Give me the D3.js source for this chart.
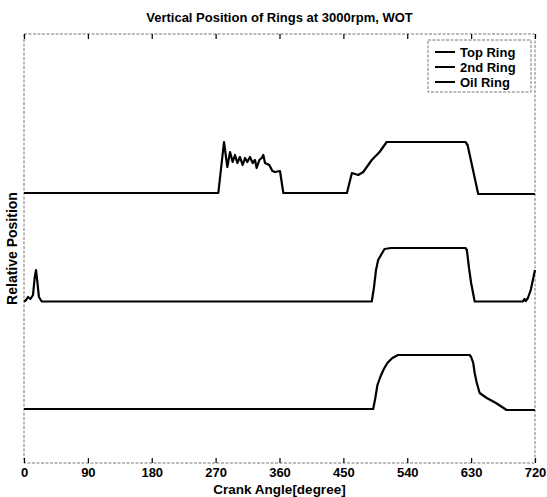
<!DOCTYPE html>
<html><head><meta charset="utf-8">
<script src="https://cdn.jsdelivr.net/npm/d3@7"></script>
<style>body{margin:0;background:#fff}svg{display:block}</style>
</head><body><svg id="c" width="547" height="497"></svg>
<script>
const title = "Vertical Position of Rings at 3000rpm, WOT";
const xLabel = "Crank Angle[degree]";
const yLabel = "Relative Position";
const xTicks = [0, 90, 180, 270, 360, 450, 540, 630, 720];
const seriesNames = ["Top Ring", "2nd Ring", "Oil Ring"];

const topAngle = [0, 273.8, 278.5, 281.8, 286.5, 290.3, 294, 297.3, 300.6, 304.3, 308, 311.4, 314.6, 318.4, 322.2, 325.5, 327.8, 331.6, 334.9, 337.2, 339.6, 345.6, 350, 353.7, 360.7, 365.4, 455, 462, 471, 478, 490, 501, 506, 511, 622, 625, 640, 720];
const topPos   = [27.0, 27.0, 30.0, 32.1, 29.6, 31.1, 30.1, 30.8, 30.0, 30.6, 29.8, 30.5, 30.1, 30.6, 30.0, 30.3, 29.5, 30.3, 30.5, 30.8, 30.0, 29.8, 29.2, 29.1, 29.2, 27.0, 27.0, 29.0, 28.8, 29.1, 30.3, 31.1, 31.6, 32.1, 32.1, 31.8, 26.9, 26.9];

const secAngle = [0, 3, 5.6, 9, 12.7, 15, 16.9, 19, 21, 25, 490, 493, 496, 499, 503, 508, 517, 622, 624, 627, 630, 635, 703, 705, 707, 710, 714, 717, 720];
const secPos   = [16.15, 16.3, 16.6, 16.4, 16.8, 18.5, 19.3, 18.0, 16.6, 16.15, 16.15, 17.5, 19.3, 20.3, 20.8, 21.4, 21.5, 21.5, 21.3, 19.5, 18.0, 16.15, 16.15, 16.4, 16.2, 16.5, 17.3, 18.3, 19.3];

const oilAngle = [0, 492, 495, 498, 502, 507, 512, 519, 527, 628, 630, 633, 635, 638, 642, 652, 665, 680, 720];
const oilPos   = [5.4, 5.4, 6.5, 7.8, 8.6, 9.4, 10.0, 10.5, 10.8, 10.8, 10.6, 10.0, 9.0, 8.0, 7.0, 6.5, 6.0, 5.3, 5.3];

const series = [
  {name: seriesNames[0], a: topAngle, v: topPos},
  {name: seriesNames[1], a: secAngle, v: secPos},
  {name: seriesNames[2], a: oilAngle, v: oilPos}
];

const svg = d3.select("#c");
const L = 24, R = 535, T = 34, B = 463;
const x = d3.scaleLinear().domain([0, 720]).range([L, R]);
const y = d3.scaleLinear().domain([0, 42.9]).range([B, T]);

const font = "'Liberation Sans', Arial, sans-serif";

// border
svg.append("rect").attr("x", L).attr("y", T).attr("width", R - L).attr("height", B - T)
  .attr("fill", "none").attr("stroke", "#777").attr("stroke-width", 1).attr("stroke-dasharray", "3,1.5");

// axes with inward ticks
const gx = svg.append("g").attr("transform", `translate(0,${B})`)
  .call(d3.axisBottom(x).tickValues(xTicks).tickSize(-5).tickPadding(5).tickFormat(d3.format("d")));
gx.select(".domain").remove();
gx.selectAll("line").attr("stroke", "#000").attr("stroke-width", 1.2);
gx.selectAll("text").attr("font-family", font).attr("font-size", 13).attr("font-weight", "bold").attr("fill", "#000");

const gt = svg.append("g").attr("transform", `translate(0,${T})`)
  .call(d3.axisTop(x).tickValues(xTicks).tickSize(-5).tickFormat(""));
gt.select(".domain").remove();
gt.selectAll("line").attr("stroke", "#000").attr("stroke-width", 1.2);

// lines
const line = d3.line().x(d => x(d[0])).y(d => y(d[1]));
series.forEach(s => {
  const pts = s.a.map((a, i) => [a, s.v[i]]);
  svg.append("path").datum(pts).attr("d", line)
    .attr("fill", "none").attr("stroke", "#000").attr("stroke-width", 2.2)
    .attr("stroke-linejoin", "round");
});

// title and labels
svg.append("text").attr("x", (L + R) / 2).attr("y", 22).attr("text-anchor", "middle")
  .attr("font-family", font).attr("font-size", 13).attr("font-weight", "bold").text(title);
svg.append("text").attr("x", (L + R) / 2).attr("y", 494).attr("text-anchor", "middle")
  .attr("font-family", font).attr("font-size", 13.5).attr("font-weight", "bold").text(xLabel);
svg.append("text").attr("transform", `translate(17,${(T + B) / 2}) rotate(-90)`).attr("text-anchor", "middle")
  .attr("font-family", font).attr("font-size", 14).attr("font-weight", "bold").text(yLabel);

// legend
const lg = svg.append("g");
lg.append("rect").attr("x", 428).attr("y", 40).attr("width", 103).attr("height", 52)
  .attr("fill", "#fff").attr("stroke", "#777").attr("stroke-width", 1).attr("stroke-dasharray", "3,1.5");
seriesNames.forEach((n, i) => {
  const yy = 52 + i * 15;
  lg.append("line").attr("x1", 435).attr("x2", 455).attr("y1", yy).attr("y2", yy)
    .attr("stroke", "#000").attr("stroke-width", 2);
  lg.append("text").attr("x", 460).attr("y", yy + 4.5).attr("font-family", font)
    .attr("font-size", 13).attr("font-weight", "bold").text(n);
});
</script>
</body></html>
